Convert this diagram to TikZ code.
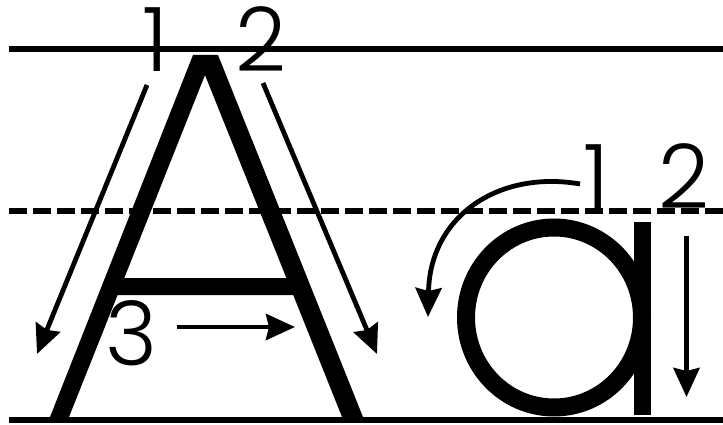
\documentclass[tikz,border=0pt]{standalone}
\usepackage{fontspec}
\usetikzlibrary{arrows.meta}
\IfFontExistsTF{Poppins Light}{\newfontfamily\digitfont{Poppins Light}}{\newfontfamily\digitfont{Poppins}}
\begin{document}
\begin{tikzpicture}[x=1pt,y=-1pt,
  guide/.style={line width=6pt},
  dguide/.style={line width=6pt, dash pattern=on 18pt off 6pt},
  stroke/.style={line width=4.8pt, -{Stealth[length=29pt,width=26pt,inset=3pt]}},
  num/.style={font=\digitfont\fontsize{89}{89}\selectfont, inner sep=0pt, anchor=base}]
\useasboundingbox (0,0) rectangle (723,425);
% guide lines
\coordinate (tl) at (9,49.5); \coordinate (tr) at (723,49.5);
\coordinate (ml) at (9,210.5); \coordinate (mr) at (723,210.5);
\coordinate (bl) at (9,420); \coordinate (br) at (723,420);
\draw[guide] (tl) -- (tr);
\draw[dguide] (ml) -- (mr);
% letter A
\fill[even odd rule] (50,417) -- (193,55) -- (218,55) -- (363,417) -- (342,417)
  -- (293.2,295) -- (117.6,295) -- (69,417) -- cycle
  (205,75) -- (286.4,278) -- (124.3,278) -- cycle;
% letter a
\draw[line width=18pt] (554,317.5) ellipse [x radius=88, y radius=90];
\fill (634,222) rectangle (651,415);
\draw[guide] (bl) -- (br);
% numbers
\node[num] (n1) at (155,72) {1};
\node[num] (n2) at (261,72) {2};
\node[num] (n3) at (132,365) {3};
\node[num] (m1) at (596,208) {1};
\node[num] (m2) at (684,208) {2};
% strokes
\coordinate (s1a) at (147,85); \coordinate (s1b) at (37,354);
\coordinate (s2a) at (263,83); \coordinate (s2b) at (377,354);
\coordinate (s3a) at (177,327); \coordinate (s3b) at (295,327);
\coordinate (t1a) at (580,184); \coordinate (t1b) at (428,317);
\coordinate (t2a) at (686.5,236); \coordinate (t2b) at (686.5,397);
\draw[stroke] (s1a) -- (s1b);
\draw[stroke] (s2a) -- (s2b);
\draw[stroke] (s3a) -- (s3b);
\draw[stroke] (t1a) .. controls (500,170) and (430,215) .. (t1b);
\draw[stroke] (t2a) -- (t2b);
\end{tikzpicture}
\end{document}
